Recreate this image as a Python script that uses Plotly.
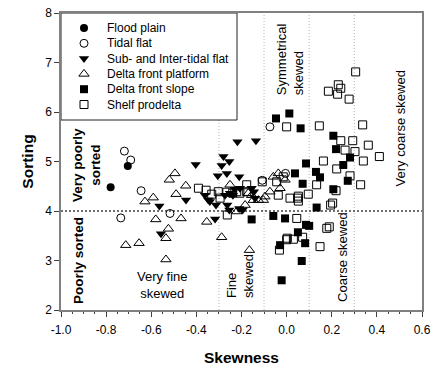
import plotly.graph_objects as go

# ---------------- data ----------------
flood_x = [-0.704, -0.780]
flood_y = [4.91, 4.48]

tidal_x = [-0.719, -0.691, -0.645, -0.735, -0.517, -0.074, -0.108, -0.005]
tidal_y = [5.21, 5.03, 4.41, 3.86, 3.95, 5.70, 4.62, 4.76]

sub_x = [-0.564, -0.557, -0.446, -0.403, -0.317, -0.280, -0.254, -0.288, -0.265, -0.305,
         -0.210, -0.362, -0.340, -0.313, -0.273, -0.251, -0.263, -0.229, -0.218, -0.136,
         -0.347, -0.254, -0.195, -0.145, -0.238, -0.207, -0.155, -0.140, -0.210]
sub_y = [4.10, 3.54, 4.22, 4.94, 3.84, 5.10, 5.00, 4.92, 4.76, 4.71,
         4.69, 4.32, 4.19, 4.12, 4.32, 4.36, 4.12, 4.44, 5.40, 5.42,
         4.22, 4.02, 4.02, 4.39, 4.32, 4.46, 4.46, 4.26, 4.05]

plat_x = [-0.495, -0.520, -0.447, -0.490, -0.591, -0.628, -0.580, -0.468, -0.524, -0.535,
          -0.713, -0.654, -0.535, -0.354, -0.288, -0.165, -0.251, -0.170, -0.148, -0.125,
          -0.096, -0.074, -0.059, -0.037, -0.007, -0.029, -0.184, -0.155, -0.221, -0.103]
plat_y = [4.76, 4.63, 4.51, 4.34, 4.27, 4.19, 3.83, 3.85, 3.64, 3.45,
          3.31, 3.35, 3.02, 3.78, 3.47, 3.21, 4.53, 4.36, 4.22, 4.22,
          4.29, 4.39, 4.69, 4.76, 4.63, 4.46, 4.12, 4.32, 3.99, 4.22]

slope_x = [-0.047, 0.012, 0.062, 0.207, 0.219, 0.281, 0.251, 0.086, 0.130, 0.148,
           0.071, 0.271, 0.207, 0.037, 0.133, -0.155, -0.059, -0.007, 0.086, 0.100,
           0.050, 0.082, -0.029, 0.067, -0.022]
slope_y = [5.87, 5.97, 5.67, 5.52, 5.25, 5.08, 4.93, 4.96, 4.79, 4.68,
           4.55, 4.61, 4.44, 4.76, 4.07, 3.83, 3.90, 3.85, 3.72, 3.70,
           3.57, 3.35, 3.31, 2.99, 2.60]

shelf_x = [0.306, 0.229, 0.240, 0.185, 0.226, 0.277, 0.145, 0.337, 0.240, 0.293,
           0.362, 0.259, 0.303, 0.411, 0.163, 0.340, 0.222, 0.281, 0.328, 0.133,
           0.096, 0.052, 0.219, 0.204, 0.195, 0.189, 0.015, 0.049, 0.052, 0.045,
           0.003, 0.178, -0.177, -0.177, -0.108, -0.044, -0.015, -0.037, -0.391, -0.357,
           -0.332, -0.303, -0.295, -0.265, -0.263, -0.221, -0.239, -0.207, 0.000, 0.071,
           0.148, 0.000, -0.032, 0.030]
shelf_y = [6.81, 6.55, 6.48, 6.42, 6.36, 6.26, 5.72, 5.74, 5.42, 5.42,
           5.33, 5.23, 5.20, 5.10, 5.01, 5.01, 4.85, 4.71, 4.53, 4.53,
           4.34, 4.30, 4.41, 4.16, 4.12, 3.68, 4.26, 4.26, 4.20, 3.85,
           3.45, 3.65, 4.53, 4.39, 4.59, 4.59, 4.69, 4.32, 4.46, 4.42,
           4.34, 4.39, 4.26, 4.38, 3.92, 4.39, 4.36, 4.36, 5.70, 3.47,
           3.28, 3.42, 3.21, 3.43]

series_names = ["Flood plain", "Tidal flat", "Sub- and Inter-tidal flat",
                "Delta front platform", "Delta front slope", "Shelf prodelta"]
x_ticks = [-1.0, -0.8, -0.6, -0.4, -0.2, 0.0, 0.2, 0.4, 0.6]
x_tick_labels = ["-1.0", "-0.8", "-0.6", "-0.4", "-0.2", "0.0", "0.2", "0.4", "0.6"]
y_ticks = [2, 3, 4, 5, 6, 7, 8]
class_bounds = [-0.3, -0.1, 0.1, 0.3]
sorting_bound = 4

# ---------------- styles ----------------
styles = [
    dict(symbol="circle", size=8, color="black", line=dict(width=0)),
    dict(symbol="circle-open", size=8, color="black", line=dict(width=1)),
    dict(symbol="triangle-down", size=9, color="black", line=dict(width=0)),
    dict(symbol="triangle-up-open", size=9, color="black", line=dict(width=1)),
    dict(symbol="square", size=8, color="black", line=dict(width=0)),
    dict(symbol="square-open", size=8, color="black", line=dict(width=1)),
]
data = [(flood_x, flood_y), (tidal_x, tidal_y), (sub_x, sub_y),
        (plat_x, plat_y), (slope_x, slope_y), (shelf_x, shelf_y)]

FONT = "Arial, Liberation Sans, sans-serif"
fig = go.Figure()

for i in [3, 2, 5, 4, 1, 0]:
    xs, ys = data[i]
    fig.add_trace(go.Scatter(x=xs, y=ys, mode="markers", name=series_names[i],
                             marker=styles[i], showlegend=False, hoverinfo="skip"))

# manual legend on an overlay pixel axis (plot area 361 x 297 px)
PW, PH = 361, 297
leg_row0, leg_step, leg_mx, leg_tx = 15, 15.3, 23, 44
for k, name in enumerate(series_names):
    yy = leg_row0 + k * leg_step
    fig.add_trace(go.Scatter(x=[leg_mx], y=[yy], xaxis="x2", yaxis="y2", mode="markers",
                             marker=styles[k], showlegend=False, hoverinfo="skip"))
    fig.add_annotation(x=leg_tx, y=yy, xref="x2", yref="y2", text=name, showarrow=False,
                       xanchor="left", yanchor="middle",
                       font=dict(family=FONT, size=12, color="black"))

shapes = []
for b in class_bounds:
    shapes.append(dict(type="line", xref="x", yref="paper", x0=b, x1=b, y0=0, y1=1,
                       line=dict(color="#b4b4b4", width=1, dash="1px,2px"), layer="below"))
shapes.append(dict(type="line", xref="paper", yref="y", x0=0, x1=1, y0=sorting_bound,
                   y1=sorting_bound, line=dict(color="#404040", width=1.5, dash="2px,2px"),
                   layer="below"))
shapes.append(dict(type="rect", xref="paper", yref="paper", x0=0, x1=176 / PW,
                   y0=1 - 107 / PH, y1=1, fillcolor="white",
                   line=dict(color="#222222", width=1), layer="below"))

ann_font = dict(family=FONT, size=13, color="black")
bold_font = dict(family=FONT, size=13.5, color="black")
anns = [
    dict(x=0.015, y=6.30, text="Symmetrical<br>skewed", textangle=-90, xanchor="center",
         yanchor="bottom", align="left", font=ann_font),
    dict(x=0.505, y=5.66, text="Very coarse skewed", textangle=-90, xanchor="center",
         yanchor="middle", font=ann_font),
    dict(x=0.245, y=3.07, text="Coarse skewed", textangle=-90, xanchor="center",
         yanchor="middle", font=ann_font),
    dict(x=-0.207, y=2.20, text="Fine<br>skewed", textangle=-90, xanchor="center",
         yanchor="bottom", align="left", font=ann_font),
    dict(x=-0.548, y=2.50, text="Very fine<br>skewed", xanchor="center",
         yanchor="middle", align="center", font=ann_font),
    dict(x=-0.885, y=4.93, text="<b>Very poorly<br>sorted</b>", textangle=-90,
         xanchor="center", yanchor="middle", align="center", font=bold_font),
    dict(x=-0.92, y=2.99, text="<b>Poorly sorted</b>", textangle=-90,
         xanchor="center", yanchor="middle", font=bold_font),
]
for a in anns:
    fig.add_annotation(showarrow=False, xref="x", yref="y", **a)

axis_common = dict(showline=True, linecolor="#808080", linewidth=1.5, mirror=True,
                   ticks="outside", ticklen=5, tickcolor="#404040", showgrid=False,
                   zeroline=False, automargin=False,
                   tickfont=dict(family=FONT, size=12, color="black"))

fig.update_layout(
    shapes=shapes,
    xaxis=dict(range=[-1.0, 0.6], tickmode="array", tickvals=x_ticks, ticktext=x_tick_labels,
               ticklabelstandoff=3,
               minor=dict(dtick=0.05, tick0=-1.0, ticks="outside", ticklen=2.5,
                          tickcolor="#404040", showgrid=False),
               title=dict(text="<b>Skewness</b>", standoff=16,
                          font=dict(family=FONT, size=15.5, color="black")),
               **axis_common),
    yaxis=dict(range=[2, 8], tickmode="array", tickvals=y_ticks,
               ticktext=[str(v) for v in y_ticks],
               title=dict(text="<b>Sorting</b>", standoff=8,
                          font=dict(family=FONT, size=15.5, color="black")),
               **axis_common),
    xaxis2=dict(overlaying="x", range=[0, PW], visible=False, fixedrange=True),
    yaxis2=dict(overlaying="y", range=[PH, 0], visible=False, fixedrange=True),
    width=433, height=370,
    margin=dict(l=61, r=11, t=13, b=60),
    plot_bgcolor="white", paper_bgcolor="white",
    showlegend=False,
)
fig.write_html("out.html")
